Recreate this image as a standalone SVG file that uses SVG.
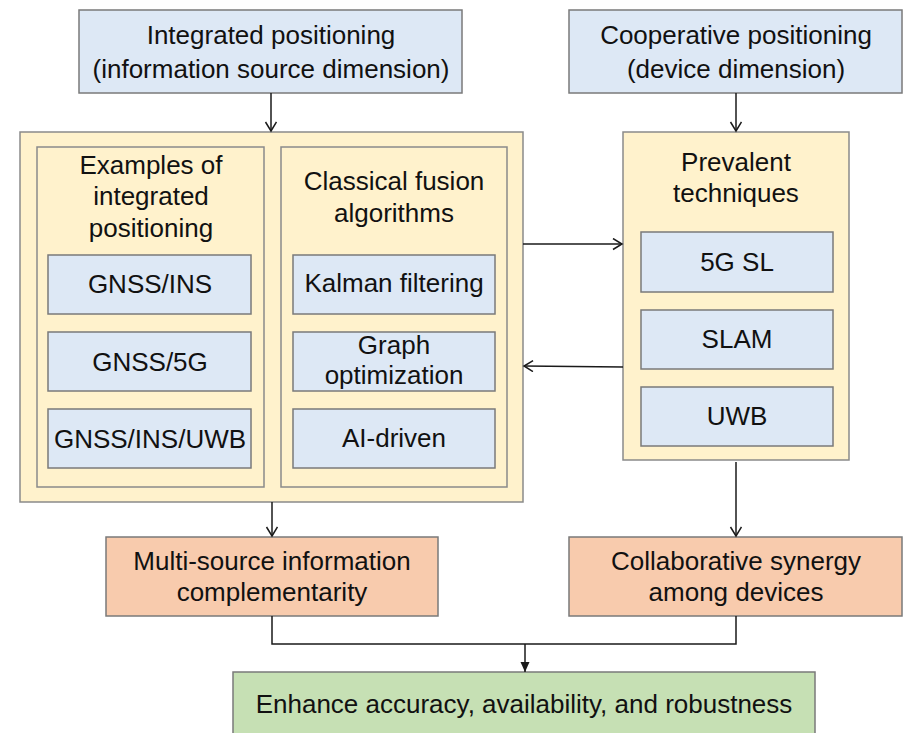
<svg xmlns="http://www.w3.org/2000/svg" width="906" height="733" viewBox="0 0 906 733">
<defs>
<style>
.blue{fill:#dde8f5;stroke:#7a7a7a;stroke-width:1.5}
.yel{fill:#fff2cc;stroke:#8a8a8a;stroke-width:1.5}
.ora{fill:#f8cbad;stroke:#7a7a7a;stroke-width:1.5}
.grn{fill:#c6e0b4;stroke:#7a7a7a;stroke-width:1.5}
text{font-family:"Liberation Sans",Arial,sans-serif;font-size:26px;fill:#111;text-anchor:middle}
.ln{fill:none;stroke:#1a1a1a;stroke-width:1.5}
</style>
<marker id="open" markerUnits="userSpaceOnUse" markerWidth="14" markerHeight="14" refX="10" refY="6" orient="auto">
<path d="M1,0.5 L10,6 L1,11.5" fill="none" stroke="#1a1a1a" stroke-width="1.5"/>
</marker>
<marker id="solid" markerUnits="userSpaceOnUse" markerWidth="12" markerHeight="12" refX="10" refY="4.5" orient="auto">
<path d="M0,0 L10,4.5 L0,9 Z" fill="#1a1a1a"/>
</marker>
</defs>

<g id="integrated">
<rect class="blue" x="79" y="10" width="383" height="83"/>
<text x="271" y="44">Integrated positioning</text>
<text x="271" y="78">(information source dimension)</text>
</g>

<g id="cooperative">
<rect class="blue" x="569" y="10" width="333" height="83"/>
<text x="736" y="44">Cooperative positioning</text>
<text x="736" y="78">(device dimension)</text>
</g>

<g id="left-container">
<rect class="yel" x="20" y="132" width="503" height="370"/>
</g>

<g id="examples">
<rect class="yel" x="37" y="147" width="227" height="340"/>
<text x="151" y="174">Examples of</text>
<text x="151" y="205">integrated</text>
<text x="151" y="237">positioning</text>
</g>
<g id="gnss-ins">
<rect class="blue" x="48" y="255" width="203" height="59"/>
<text x="150" y="293">GNSS/INS</text>
</g>
<g id="gnss-5g">
<rect class="blue" x="48" y="332" width="203" height="59"/>
<text x="150" y="371">GNSS/5G</text>
</g>
<g id="gnss-ins-uwb">
<rect class="blue" x="48" y="409" width="203" height="59"/>
<text x="150" y="448">GNSS/INS/UWB</text>
</g>

<g id="classical">
<rect class="yel" x="281" y="147" width="226" height="340"/>
<text x="394" y="190">Classical fusion</text>
<text x="394" y="222">algorithms</text>
</g>
<g id="kalman">
<rect class="blue" x="293" y="255" width="202" height="59"/>
<text x="394" y="292">Kalman filtering</text>
</g>
<g id="graph">
<rect class="blue" x="293" y="332" width="202" height="59"/>
<text x="394" y="354">Graph</text>
<text x="394" y="384">optimization</text>
</g>
<g id="ai">
<rect class="blue" x="293" y="409" width="202" height="59"/>
<text x="394" y="447">AI-driven</text>
</g>

<g id="prevalent">
<rect class="yel" x="623" y="132" width="226" height="328"/>
<text x="736" y="171">Prevalent</text>
<text x="736" y="202">techniques</text>
</g>
<g id="5gsl">
<rect class="blue" x="641" y="232" width="192" height="60"/>
<text x="737" y="271">5G SL</text>
</g>
<g id="slam">
<rect class="blue" x="641" y="310" width="192" height="59"/>
<text x="737" y="348">SLAM</text>
</g>
<g id="uwb">
<rect class="blue" x="641" y="387" width="192" height="59"/>
<text x="737" y="425">UWB</text>
</g>

<g id="multi-source">
<rect class="ora" x="106" y="537" width="332" height="79"/>
<text x="272" y="570">Multi-source information</text>
<text x="272" y="601">complementarity</text>
</g>

<g id="collaborative">
<rect class="ora" x="569" y="537" width="333" height="79"/>
<text x="736" y="570">Collaborative synergy</text>
<text x="736" y="601">among devices</text>
</g>

<g id="enhance">
<rect class="grn" x="233" y="672" width="582" height="70"/>
<text x="524" y="713">Enhance accuracy, availability, and robustness</text>
</g>

<g id="connectors">
<line class="ln" x1="271" y1="93" x2="271" y2="131" marker-end="url(#open)"/>
<line class="ln" x1="736" y1="93" x2="736" y2="131" marker-end="url(#open)"/>
<line class="ln" x1="523" y1="244" x2="622" y2="244" marker-end="url(#open)"/>
<line class="ln" x1="623" y1="367" x2="524" y2="366" marker-end="url(#open)"/>
<line class="ln" x1="272" y1="502" x2="272" y2="536" marker-end="url(#open)"/>
<line class="ln" x1="736" y1="462" x2="736" y2="536" marker-end="url(#open)"/>
<polyline class="ln" points="272,616 272,644 736,644 736,616"/>
<line class="ln" x1="525" y1="644" x2="525" y2="672" marker-end="url(#solid)"/>
</g>
</svg>
